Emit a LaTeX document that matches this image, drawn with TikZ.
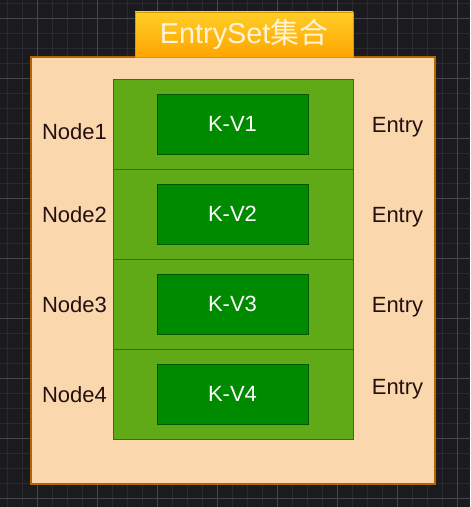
\documentclass[tikz,border=0pt]{standalone}
\usepackage{fontspec}
\setmainfont{Liberation Sans}
\newfontfamily\cjk{Noto Sans CJK SC}

\definecolor{sfondo}{HTML}{1B1A1F}
\definecolor{griglia}{HTML}{2B2A30}
\definecolor{grigliamag}{HTML}{46454B}
\definecolor{titolosu}{HTML}{FFCD28}
\definecolor{titologiu}{HTML}{FFA500}
\definecolor{titolobordo}{HTML}{D79B00}
\definecolor{titolotesto}{HTML}{FFF4D6}
\definecolor{insiemefill}{HTML}{FAD7AC}
\definecolor{insiemebordo}{HTML}{B46504}
\definecolor{rigafill}{HTML}{60A917}
\definecolor{rigabordo}{HTML}{2D7600}
\definecolor{kvfill}{HTML}{008A00}
\definecolor{kvbordo}{HTML}{005700}
\definecolor{testoscuro}{HTML}{241010}

\newcommand{\testo}{\fontsize{31.3}{36}\selectfont}
\newcommand{\testotitolo}{\fontsize{41}{46}\selectfont}

\begin{document}
\begin{tikzpicture}[
    riga/.style={draw=rigabordo, fill=rigafill, line width=1.4pt, inner sep=0pt,
        minimum width=12cm, minimum height=4.5cm},
    kv/.style={draw=kvbordo, fill=kvfill, line width=1.4pt, inner sep=0pt,
        minimum width=7.55cm, minimum height=3cm, text=white, font=\testo},
    etichetta/.style={anchor=base, inner sep=0pt, text=testoscuro, font=\testo}
]
        % Sfondo
        \useasboundingbox (0,0) rectangle (23.5,-25.35);
        \fill[sfondo] (0,0) rectangle (23.5,-25.35);
        \begin{scope}
            \clip (0,0) rectangle (23.5,-25.35);
            \draw[griglia, line width=1pt, xshift=0.35cm, yshift=-0.15cm, step=0.75] (-1,1) grid (25,-27);
            \draw[grigliamag, line width=1.2pt, xshift=1.85cm, yshift=-0.9cm, step=3] (-3,3) grid (24,-27);
        \end{scope}

        % Contenitore
        \node (insieme) [draw=insiemebordo, fill=insiemefill, line width=1.6pt, inner sep=0pt,
            minimum width=20.2cm, minimum height=21.35cm] at (11.65,-13.525) {};
        \node (titolo) [draw=titolobordo, top color=titolosu, bottom color=titologiu, line width=1.4pt,
            inner sep=0pt, minimum width=10.9cm, minimum height=2.25cm, text=titolotesto,
            font=\testotitolo] at (12.2,-1.725) {EntrySet{\cjk 集合}};

        % Righe
        \node (riga1) [riga] at (11.65,-6.2) {};
        \node (riga2) [riga] at (11.65,-10.7) {};
        \node (riga3) [riga] at (11.65,-15.2) {};
        \node (riga4) [riga] at (11.65,-19.7) {};

        \node (kv1) [kv] at (11.625,-6.2) {K-V1};
        \node (kv2) [kv] at (11.625,-10.7) {K-V2};
        \node (kv3) [kv] at (11.625,-15.2) {K-V3};
        \node (kv4) [kv] at (11.625,-19.7) {K-V4};

        % Etichette
        \node (nodo1) [etichetta] at (3.725,-6.965) {Node1};
        \node (nodo2) [etichetta] at (3.725,-11.135) {Node2};
        \node (nodo3) [etichetta] at (3.725,-15.6) {Node3};
        \node (nodo4) [etichetta] at (3.725,-20.1) {Node4};

        \node (entry1) [etichetta] at (19.875,-6.6) {Entry};
        \node (entry2) [etichetta] at (19.875,-11.1) {Entry};
        \node (entry3) [etichetta] at (19.875,-15.6) {Entry};
        \node (entry4) [etichetta] at (19.875,-19.7) {Entry};
\end{tikzpicture}
\end{document}
